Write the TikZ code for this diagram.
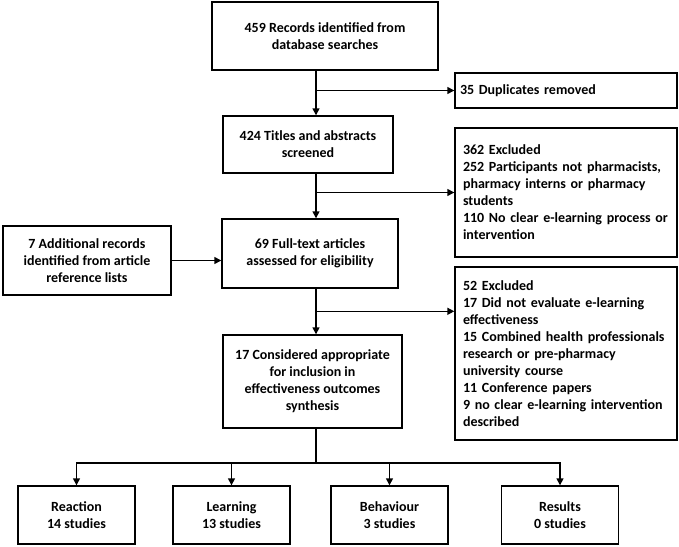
\documentclass[tikz,border=0pt]{standalone}
\usepackage{fontspec}
\setmainfont{Carlito}
\usetikzlibrary{arrows.meta}

\begin{document}
\begin{tikzpicture}[x=1pt,y=-1pt,
    box/.style={draw,line width=1.4pt,align=center,inner sep=4pt,font=\bfseries\fontsize{14}{17}\selectfont},
    leftbox/.style={box,align=left,text width=206pt,inner xsep=8pt,minimum width=222pt},
    arr/.style={line width=1.4pt,-{Triangle[length=7pt,width=7pt]}}]
            \useasboundingbox (0,0) rectangle (679,546);
            % main column
            \node[box,minimum width=226pt,minimum height=68pt] (records) at (325,36) {459 Records identified from\\database searches};
            \node[box,minimum width=170pt,minimum height=57pt] (titles) at (308,144.5) {424 Titles and abstracts\\screened};
            \node[box,minimum width=176pt,minimum height=69pt] (fulltext) at (310,253.5) {69 Full-text articles\\assessed for eligibility};
            \node[box,minimum width=179pt,minimum height=93pt] (considered) at (312.5,381.5) {17 Considered appropriate\\for inclusion in\\effectiveness outcomes\\synthesis};
            % side boxes
            \node[leftbox,inner xsep=5pt,text width=212pt,minimum height=35pt] (dupl) at (566,90.5) {35 Duplicates removed};
            \node[leftbox,minimum height=129pt] (excla) at (566,192.5) {362 Excluded\\252 Participants not pharmacists,\\pharmacy interns or pharmacy\\students\\110 No clear e-learning process or\\intervention};
            \node[leftbox,minimum height=173pt] (exclb) at (566,353.5) {52 Excluded\\17 Did not evaluate e-learning\\effectiveness\\15 Combined health professionals\\research or pre-pharmacy\\university course\\11 Conference papers\\9 no clear e-learning intervention\\described};
            \node[box,minimum width=168pt,minimum height=69pt] (addl) at (87,260.5) {7 Additional records\\identified from article\\reference lists};
            % outcome levels
            \node[box,minimum width=117pt,minimum height=58pt] (reaction) at (76.5,515) {Reaction\\14 studies};
            \node[box,minimum width=117pt,minimum height=58pt] (learning) at (231.5,515) {Learning\\13 studies};
            \node[box,minimum width=117pt,minimum height=58pt] (behaviour) at (389.5,515) {Behaviour\\3 studies};
            \node[box,minimum width=117pt,minimum height=58pt] (results) at (560,515) {Results\\0 studies};
            % connectors
            \coordinate (spine) at (316,0);
            \coordinate (exclbin) at ([yshift=-45pt]exclb.north west);
            \coordinate (split) at (316,463);
            \draw[arr] (records.south -| spine) -- (titles.north -| spine);
            \draw[arr] (dupl.west -| spine) -- (dupl.west);
            \draw[arr] (titles.south -| spine) -- (fulltext.north -| spine);
            \draw[arr] (excla.west -| spine) -- (excla.west);
            \draw[arr] (addl.east) -- (addl.east -| fulltext.west);
            \draw[arr] (fulltext.south -| spine) -- (considered.north -| spine);
            \draw[arr] (exclbin -| spine) -- (exclbin);
            \draw[line width=1.4pt] (considered.south -| spine) -- (split);
            \foreach \n in {reaction,learning,behaviour,results}
                \draw[arr] (split) -| (\n.north);
        \end{tikzpicture}
\end{document}
